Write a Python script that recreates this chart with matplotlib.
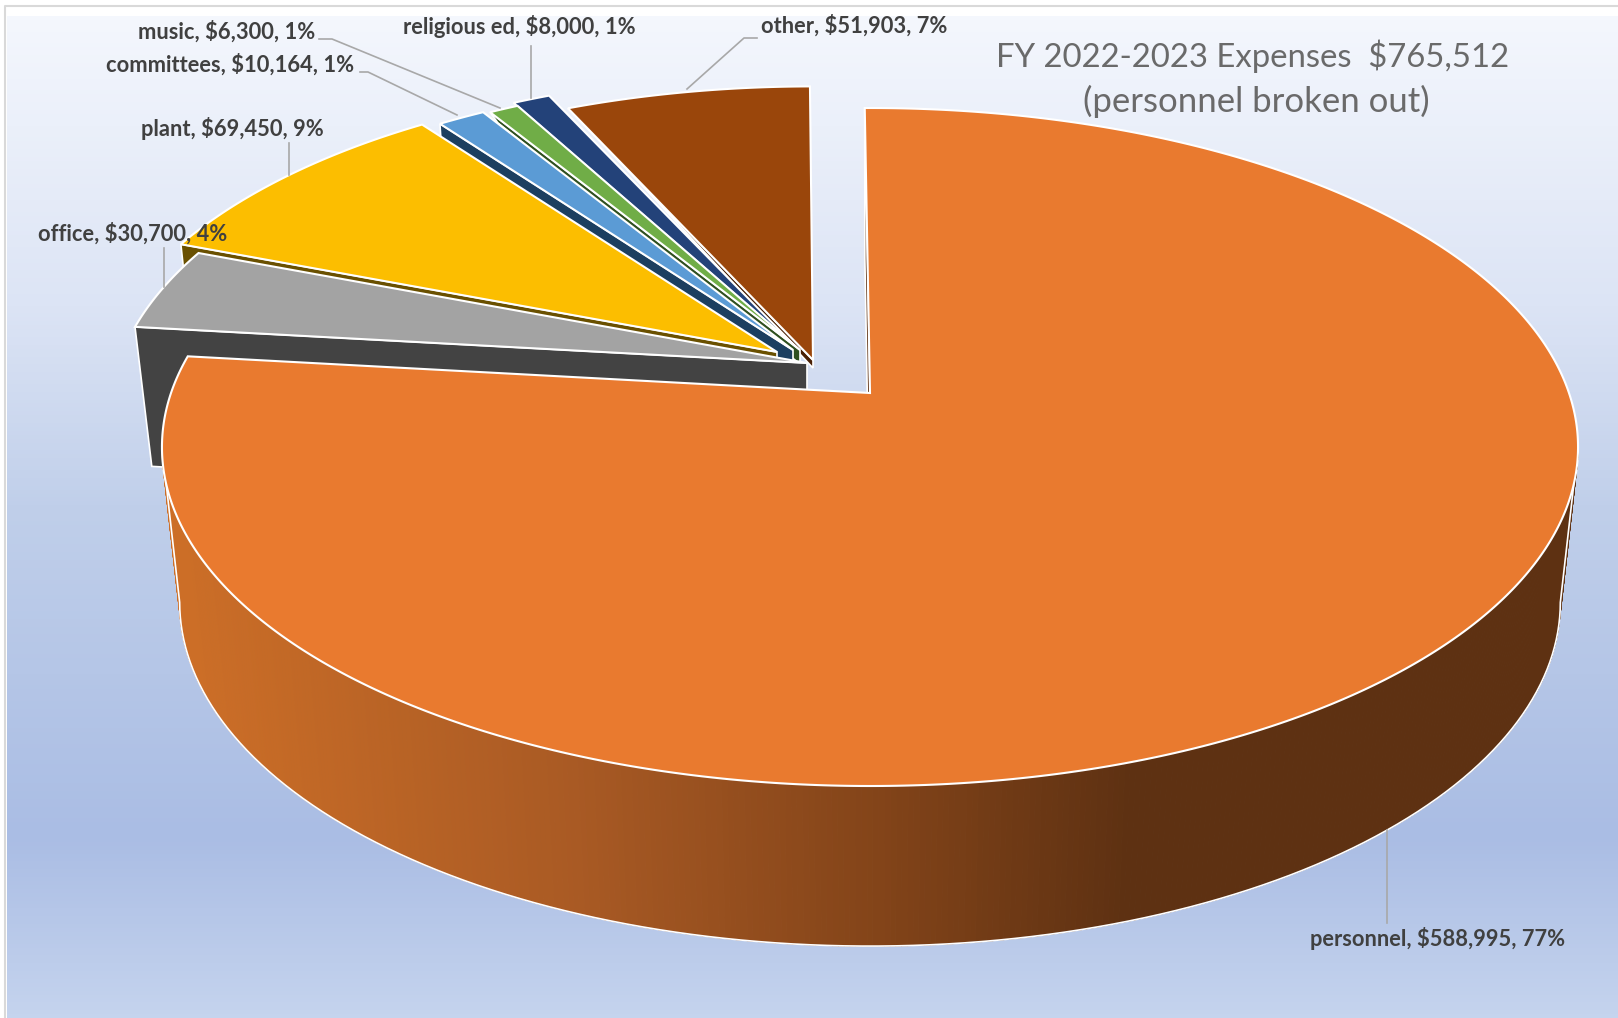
import numpy as np
import matplotlib
matplotlib.use("Agg")
import matplotlib.pyplot as plt
from matplotlib.colors import LinearSegmentedColormap
from matplotlib.collections import PolyCollection
from matplotlib.patches import Polygon

categories = ["personnel", "office", "plant", "committees", "music", "religious ed", "other"]
amounts = [588995, 30700, 69450, 10164, 6300, 8000, 51903]
title_lines = ["FY 2022-2023 Expenses  $765,512", "(personnel broken out)"]

W, H = 1618, 1018

# how the pie disc sits in the picture
CX, CY = 870, 393
RX, RY = 699.0, 330.4
PERSP = 0.1593
START = -0.5
LOW_X, LOW_Y = 0.975, 1.014

# top colour, side colour, tip position after exploding, radius factor, depth, small turn
top_colors = ["#E97A2F", "#A3A3A3", "#FCBE00", "#5B9BD5", "#70AD47", "#234279", "#9A460B"]
side_colors = ["#5E3112", "#434343", "#6A5000", "#1C3F60", "#2F5020", "#0F2340", "#4A2106"]
tips = [(870, 393), (807, 363), (777, 352), (793, 350), (800, 350), (796, 347), (813, 360)]
radius_k = [1.0, 0.985, 0.965, 0.96, 0.96, 0.96, 0.96]
depths = [154.6, 140, 140, 140, 14, 8, 8]
turns = [0, 0, 0, 0, 0, 0, 0.2]

# leader lines and where each label goes
leaders = [
    [(1387, 830), (1387, 923)],
    [(164, 248), (164, 287)],
    [(289, 143), (289, 175)],
    [(360, 72), (368, 72), (457, 115)],
    [(319, 39), (332, 39), (500, 108)],
    [(531, 46), (531, 98)],
    [(757, 38), (744, 38), (687, 89)],
]
label_pos = [(1438, 938), (133, 234), (232, 128), (230, 65), (227, 32), (519, 26), (854, 26)]


def disc_xy(deg, tip=(CX, CY), k=1.0, xk=1.0, yk=1.0):
    # deg runs clockwise from 12 o'clock, perspective makes the front bigger
    a = np.radians(np.asarray(deg, dtype=float))
    u, v = np.sin(a), np.cos(a)
    w = 1 + PERSP * v
    x = tip[0] + k * xk * RX * u / w
    y = tip[1] - k * yk * RY * v / w
    return np.column_stack([x, y])


fig = plt.figure(figsize=(W / 100, H / 100), dpi=100)
ax = fig.add_axes([0, 0, 1, 1])

# backdrop
bg = LinearSegmentedColormap.from_list("bg", [
    (0.0, "#F4F7FD"), (0.29, "#DCE4F5"), (0.49, "#C0CFEA"),
    (0.82, "#AABDE4"), (1.0, "#C5D4EE")])
ax.imshow(np.linspace(0, 1, 256).reshape(-1, 1), cmap=bg, aspect="auto",
          extent=[7, W, H, 16], zorder=0)
ax.plot([5.5, 5.5, W], [H, 6, 6], color="#D9D9D9", lw=1.5, zorder=1)
ax.set_xlim(0, W)
ax.set_ylim(H, 0)
ax.axis("off")

shares = np.array(amounts) / sum(amounts) * 360
starts = START + np.concatenate([[0], np.cumsum(shares)[:-1]])
z = 2

# paint the slices from back to front, personnel last
for i in [6, 5, 4, 3, 2, 1, 0]:
    a0, a1 = starts[i] + turns[i], starts[i] + shares[i] + turns[i]
    tip = tips[i]
    k = radius_k[i]
    low_tip = (tip[0], tip[1] + depths[i])
    arc = np.linspace(a0, a1, max(int(shares[i] * 2), 8))
    top = disc_xy(arc, tip, k)

    if i == 0:
        # outer wall only between the two side extremes of the disc
        edge = np.degrees(np.arccos(-PERSP))
        wall = np.linspace(edge, 360 - edge, 400)
        wall_top = disc_xy(wall, tip, k)
        wall_low = disc_xy(wall, low_tip, k, LOW_X, LOW_Y)
        shade = LinearSegmentedColormap.from_list("wall", [
            (0.0, "#CC6E27"), (0.28, "#A95A24"), (0.5, "#834419"),
            (0.68, "#5E3112"), (1.0, "#5E3112")])
        quads = [[wall_top[j], wall_top[j + 1], wall_low[j + 1], wall_low[j]]
                 for j in range(len(wall) - 1)]
        cols = [shade(np.clip((q[0][0] - 180) / 1400, 0, 1)) for q in quads]
        ax.add_collection(PolyCollection(quads, facecolors=cols, edgecolors=cols, lw=0.8, zorder=z))
        z += 1
        sil = np.vstack([wall_top[:1], wall_low, wall_top[-1:]])
        ax.plot(sil[:, 0], sil[:, 1], color="white", lw=1.2, zorder=z)
        z += 1

    # cut face on the start side of the slice
    p0 = disc_xy([a0], tip, k)[0]
    q0 = disc_xy([a0], low_tip, k, LOW_X, LOW_Y)[0]
    face = [tip, p0, q0, low_tip]
    ax.add_patch(Polygon(face, closed=True, facecolor=side_colors[i], edgecolor="white",
                         lw=1.2, zorder=z))
    z += 1

    outline = np.vstack([[tip], top])
    ax.add_patch(Polygon(outline, closed=True, facecolor=top_colors[i], edgecolor="white",
                         lw=1.5, joinstyle="miter", zorder=z))
    z += 1

for pts in leaders:
    xs, ys = zip(*pts)
    ax.plot(xs, ys, color="#A8A8A8", lw=1.2, zorder=z)

total = sum(amounts)
for name, val, (x, y) in zip(categories, amounts, label_pos):
    ax.text(x, y, f"{name}, ${val:,}, {round(100 * val / total)}%", family="Lato", weight="bold",
            fontsize=15.75, color="#404040", ha="center", va="center", zorder=z + 1)

ax.text(1253, 56, title_lines[0], family="Lato", fontsize=23.7, color="#6A6A6A", ha="center",
        va="center", zorder=z + 1)
ax.text(1256, 101, title_lines[1], family="Lato", fontsize=25, color="#6A6A6A", ha="center",
        va="center", zorder=z + 1)

fig.savefig("out.png", dpi=100)
